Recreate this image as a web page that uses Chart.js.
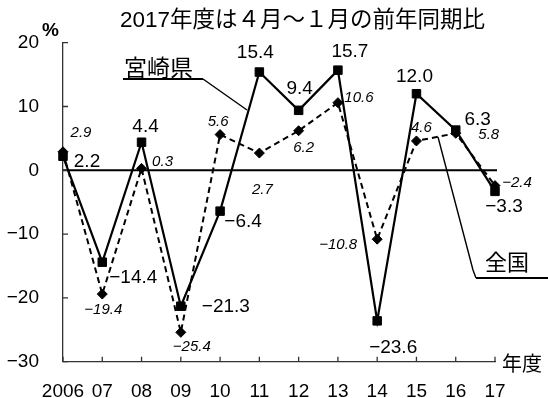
<!DOCTYPE html>
<html lang="ja">
<head>
<meta charset="utf-8">
<script src="https://cdn.jsdelivr.net/npm/chart.js@4/dist/chart.umd.min.js"></script>
<style>
  html, body { margin: 0; padding: 0; background: #fff; }
  #wrap { width: 548px; height: 398px; }
</style>
</head>
<body>
<div id="wrap"><canvas id="myChart"></canvas></div>
<script>
// 年度別の前年比（%）
const years = ["2006", "07", "08", "09", "10", "11", "12", "13", "14", "15", "16", "17"];
const miyazaki = [2.2, -14.4, 4.4, -21.3, -6.4, 15.4, 9.4, 15.7, -23.6, 12.0, 6.3, -3.3];
const zenkoku = [2.9, -19.4, 0.3, -25.4, 5.6, 2.7, 6.2, 10.6, -10.8, 4.6, 5.8, -2.4];
const yTicks = [20, 10, 0, -10, -20, -30];

// ラベル位置の微調整 [dx, dy]
const miyazakiOffsets = [[24, 6], [31, 16], [4, -15], [45, 1], [23, 11], [-4, -19],
  [1, -22], [12, -18], [16, 27], [-2, -17], [22, -10], [9, 15]];
const zenkokuOffsets = [[18, -19], [1, 16], [21, -7], [11, 14], [-2, -13], [3, 37],
  [5, 17], [21, -5], [-39, 6], [5, -13], [33, 2], [22, -3]];

const LATIN = "'Liberation Sans', Arial, sans-serif";
const JP = "'Liberation Sans', 'Noto Sans CJK JP', sans-serif";

function fmt(v) {
  return (v < 0 ? "\u2212" : "") + Math.abs(v).toFixed(1);
}

const decor = {
  id: "decor",
  beforeDatasetsDraw(chart) {
    const ctx = chart.ctx;
    const area = chart.chartArea;
    const x = chart.scales.x, y = chart.scales.y;
    ctx.save();
    ctx.strokeStyle = "#000";
    // 0 の基準線
    ctx.lineWidth = 2;
    const y0 = y.getPixelForValue(0);
    ctx.beginPath();
    ctx.moveTo(area.left, y0);
    ctx.lineTo(area.right + 2, y0);
    ctx.stroke();
    // 内向きの目盛り
    ctx.lineWidth = 1.3;
    ctx.strokeStyle = "#333";
    ctx.beginPath();
    y.ticks.forEach((t, i) => {
      const py = y.getPixelForTick(i);
      ctx.moveTo(area.left, py);
      ctx.lineTo(area.left + 5, py);
    });
    x.ticks.forEach((t, i) => {
      const px = x.getPixelForTick(i);
      ctx.moveTo(px, area.bottom);
      ctx.lineTo(px, area.bottom - 5);
    });
    ctx.stroke();
    // 引き出し線
    ctx.strokeStyle = "#000";
    ctx.lineWidth = 2;
    ctx.beginPath();
    ctx.moveTo(123, 79);
    ctx.lineTo(203, 79);
    ctx.stroke();
    ctx.lineWidth = 1.4;
    ctx.beginPath();
    ctx.moveTo(203, 79);
    ctx.lineTo(247, 110);
    ctx.moveTo(438, 137);
    ctx.lineTo(473, 270);
    ctx.lineTo(476, 278);
    ctx.stroke();
    ctx.lineWidth = 2;
    ctx.beginPath();
    ctx.moveTo(476, 278);
    ctx.lineTo(548, 278);
    ctx.stroke();
    ctx.restore();
  },
  afterDatasetsDraw(chart) {
    const ctx = chart.ctx;
    ctx.save();
    ctx.fillStyle = "#000";
    ctx.textAlign = "center";
    ctx.textBaseline = "middle";

    const m = chart.getDatasetMeta(0).data;
    ctx.font = "19px " + LATIN;
    m.forEach((pt, i) => {
      const o = miyazakiOffsets[i];
      ctx.fillText(fmt(miyazaki[i]), pt.x + o[0], pt.y + o[1]);
    });
    const z = chart.getDatasetMeta(1).data;
    ctx.font = "italic 15px " + LATIN;
    z.forEach((pt, i) => {
      const o = zenkokuOffsets[i];
      ctx.fillText(fmt(zenkoku[i]), pt.x + o[0], pt.y + o[1]);
    });

    // 見出しと注記
    ctx.textAlign = "left";
    ctx.font = "22.5px " + JP;
    ctx.fillText("2017年度は４月～１月の前年同期比", 120, 21);
    ctx.font = "bold 19px " + LATIN;
    ctx.fillText("%", 42, 31);
    ctx.font = "23px 'Noto Sans CJK JP', sans-serif";
    ctx.fillText("宮崎県", 124, 67);
    ctx.font = "22px 'Noto Sans CJK JP', sans-serif";
    ctx.fillText("全国", 485, 262);
    ctx.font = "20px 'Noto Sans CJK JP', sans-serif";
    ctx.fillText("年度", 502, 363);
    ctx.restore();
  }
};

const myChart = document.getElementById("myChart").getContext("2d");
Chart.defaults.font.family = LATIN;
Chart.defaults.color = "#000";

new Chart(myChart, {
  type: "line",
  data: {
    labels: years,
    datasets: [
      {
        label: "宮崎県",
        data: miyazaki,
        borderColor: "#000",
        backgroundColor: "#000",
        borderWidth: 2.2,
        pointStyle: "rect",
        pointRadius: 6,
        pointBorderWidth: 1,
        tension: 0,
      },
      {
        label: "全国",
        data: zenkoku,
        borderColor: "#000",
        backgroundColor: "#000",
        borderWidth: 2,
        borderDash: [6, 4],
        pointStyle: "rectRot",
        pointRadius: 5,
        pointBorderWidth: 1,
        tension: 0,
      },
    ],
  },
  options: {
    responsive: true,
    maintainAspectRatio: false,
    animation: false,
    layout: { padding: { top: 42.7, right: 53, bottom: 0, left: 0 } },
    plugins: {
      legend: { display: false },
      tooltip: { enabled: false },
    },
    scales: {
      x: {
        type: "category",
        offset: false,
        grid: { display: false, drawTicks: false },
        border: { display: true, color: "#333", width: 1.3 },
        ticks: { font: { size: 19 }, padding: 19, maxRotation: 0, autoSkip: false },
        afterFit: (s) => { s.height = 36.3; },
      },
      y: {
        min: -30,
        max: 20,
        grid: { display: false, drawTicks: false },
        border: { display: true, color: "#333", width: 1.3 },
        afterBuildTicks: (s) => { s.ticks = yTicks.map((v) => ({ value: v })); },
        ticks: {
          font: { size: 19 },
          padding: 24,
          callback: (v) => (v < 0 ? "\u2212" : "") + Math.abs(v),
        },
        afterFit: (s) => { s.width = 63; },
      },
    },
  },
  plugins: [decor],
});
</script>
</body>
</html>
